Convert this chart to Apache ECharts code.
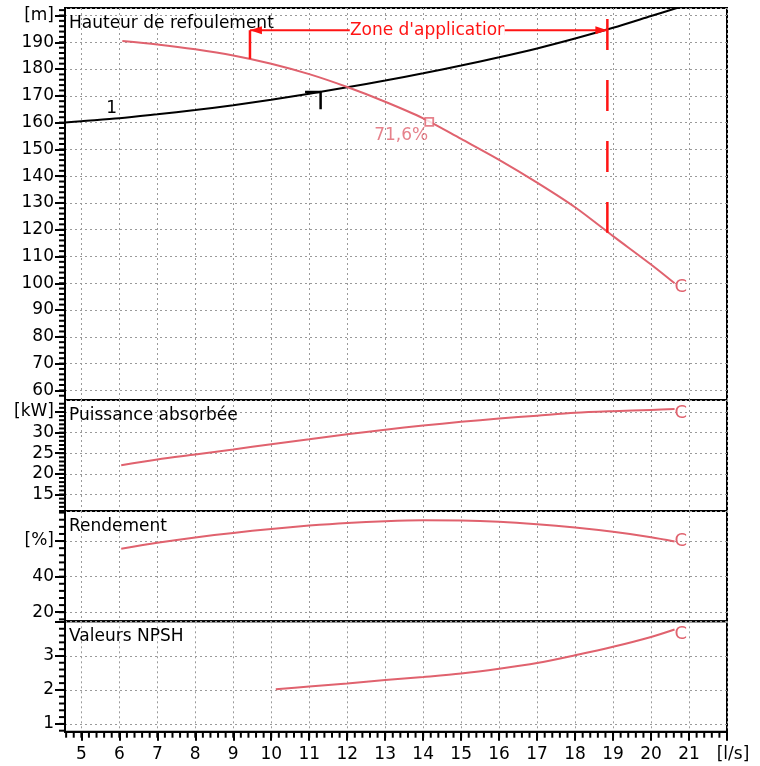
<!DOCTYPE html>
<html>
<head>
<meta charset="utf-8">
<script src="https://cdn.jsdelivr.net/npm/echarts@6/dist/echarts.min.js"></script>
<style>
  html, body { margin: 0; padding: 0; background: #fff; }
  #chart { width: 760px; height: 766px; }
</style>
</head>
<body>
<div id="chart"></div>
<script>
// Pump characteristic curves vs. flow rate [l/s]

// Head curve H(Q) [m]
const headQ = [6.08, 7, 8, 9, 10, 11, 12, 13, 14, 15, 16, 17, 18, 19, 20, 20.62];
const headH = [190.5, 189.2, 187.4, 185.1, 182.0, 178.1, 173.3, 167.8, 161.6, 153.9, 146.1, 137.6, 128.4, 117.6, 107.0, 100.0];

// System curve "1" [m]
const systemQ = [4.57, 5, 6, 7, 8, 9, 10, 11, 12, 13, 14, 15, 16, 17, 18, 19, 20, 20.7];
const systemH = [160.0, 160.5, 161.6, 163.1, 164.7, 166.5, 168.5, 170.8, 173.2, 175.7, 178.4, 181.3, 184.4, 187.7, 191.4, 195.4, 199.8, 202.9];

// Absorbed power [kW]
const powerQ = [6.05, 7, 8, 9, 10, 11, 12, 13, 14, 15, 16, 17, 18, 19, 20, 20.62];
const powerKW = [22.1, 23.5, 24.7, 25.9, 27.2, 28.4, 29.6, 30.7, 31.7, 32.6, 33.4, 34.1, 34.8, 35.2, 35.5, 35.7];

// Efficiency [%]
const effQ = [6.05, 7, 8, 9, 10, 11, 12, 13, 14, 15, 16, 17, 18, 19, 20, 20.62];
const effPct = [55.7, 59.0, 62.0, 64.6, 66.8, 68.7, 70.2, 71.2, 71.7, 71.6, 70.9, 69.5, 67.6, 65.2, 62.2, 59.8];

// NPSH required [m]
const npshQ = [10.12, 11, 12, 13, 14, 15, 16, 17, 18, 19, 20, 20.62];
const npshM = [2.02, 2.10, 2.19, 2.29, 2.38, 2.48, 2.62, 2.79, 3.02, 3.27, 3.56, 3.78];

// Duty point on the head curve
const dutyQ = 14.16;
const dutyH = 160.3;
const dutyLabel = '71,6%';

// Operating-point bracket on the system curve
const bracketQ = [10.89, 11.30, 11.30];
const bracketH = [171.4, 171.4, 165.0];

// Application range annotation
const zoneLabel = "Zone d'application";
const zoneQ = [9.44, 18.85];
const zoneH = 194.5;
const zoneLabelQ = 14.15;
const zoneLeftFootH = 183.8;
const zoneRightTopH = 198.7;
const zoneRightFootH = 118.9;

const systemLabel = '1';
const systemLabelPos = [5.8, 165.3];

const panelTitles = ['Hauteur de refoulement', 'Puissance absorbée', 'Rendement', 'Valeurs NPSH'];
const unitLabels = [[200, '[m]'], [35, '[kW]'], [60, '[%]'], [4, '']];
const flowUnit = '[l/s]';

// Axis extents and tick steps
const flowRange = [4.57, 22.0];
const flowMinorStep = 0.2;
const yRanges = [[56.4, 202.8], [11.0, 37.9], [14.9, 76.9], [0.77, 4.02]];
const ySplits = [14, 5, 3, 3];
const yMinorSteps = [2, 1, 4, 0.2];
const panelTops = [8, 400, 511, 621.3];
const panelHeights = [392, 111, 110.3, 110.4];

const PINK = '#e0626e';
const RED = '#ff1414';
const GRIDC = '#9a9a9a';
const FONT = 'DejaVu Sans';
const FS = 17;
const MINOR_LEN = 6;

const pairs = (xs, ys) => xs.map((x, i) => [x, ys[i]]);
const near = (a, b) => Math.abs(a - b) < 1e-6;
function stepValues(lo, hi, step) {
  const out = [];
  for (let k = Math.ceil(lo / step - 1e-9); k * step <= hi + 1e-9; k++) out.push(+(k * step).toFixed(6));
  return out;
}

const chart = echarts.init(document.getElementById('chart'), null, { renderer: 'canvas' });

const gridLine = { show: true, lineStyle: { color: GRIDC, width: 1, type: [2, 3] } };
const nPanels = panelTops.length;

const grids = panelTops.map((t, i) => ({
  left: 65, right: 33, top: t, height: panelHeights[i],
  show: true, borderColor: '#000', borderWidth: 2,
  containLabel: false, outerBoundsMode: 'none'
}));

const xAxes = panelTops.map((t, i) => {
  const last = i === nPanels - 1;
  return {
    type: 'value', gridIndex: i, position: 'bottom',
    min: flowRange[0], max: flowRange[1], splitNumber: 17,
    axisLine: { show: last, onZero: false, lineStyle: { color: '#000', width: 2 } },
    axisTick: { show: last, length: 9, lineStyle: { color: '#000', width: 2 } },
    axisLabel: {
      show: last, showMinLabel: false, showMaxLabel: true, margin: 14,
      color: '#000', fontSize: FS, fontFamily: FONT,
      formatter: v => near(v, flowRange[1]) ? '{u|' + flowUnit + '}' : String(v),
      rich: { u: { padding: [0, 0, 0, 12], color: '#000', fontSize: FS, fontFamily: FONT } }
    },
    splitLine: gridLine
  };
});

const yAxes = yRanges.map((r, i) => ({
  type: 'value', gridIndex: i, position: 'left',
  min: r[0], max: r[1], splitNumber: ySplits[i],
  axisLine: { show: true, onZero: false, lineStyle: { color: '#000', width: 2 } },
  axisTick: { show: true, length: 10, lineStyle: { color: '#000', width: 2 } },
  axisLabel: {
    showMinLabel: false, showMaxLabel: false, margin: 11,
    color: '#000', fontSize: FS, fontFamily: FONT,
    formatter: v => near(v, unitLabels[i][0]) ? unitLabels[i][1] : String(v)
  },
  splitLine: gridLine
}));

function curve(name, idx, xs, ys, color, width, endOffset) {
  const s = {
    name, type: 'line', xAxisIndex: idx, yAxisIndex: idx,
    data: pairs(xs, ys), smooth: 0.3,
    symbol: 'none', lineStyle: { color, width }, itemStyle: { color },
    silent: true, z: 3
  };
  if (endOffset) {
    s.endLabel = {
      show: true, formatter: 'C', color: PINK, fontSize: 18, fontFamily: FONT,
      distance: 0, offset: endOffset
    };
  }
  return s;
}

const series = [
  curve('Courbe réseau', 0, systemQ, systemH, '#000', 2, null),
  {
    name: 'Repère', type: 'line', xAxisIndex: 0, yAxisIndex: 0,
    data: pairs(bracketQ, bracketH), symbol: 'none',
    lineStyle: { color: '#000', width: 2.5 }, silent: true, z: 4
  },
  curve('Hauteur de refoulement', 0, headQ, headH, PINK, 2, [0, 4]),
  {
    name: 'Point de fonctionnement', type: 'scatter', xAxisIndex: 0, yAxisIndex: 0,
    data: [[dutyQ, dutyH]], symbol: 'rect', symbolSize: 8,
    itemStyle: { color: '#fff', borderColor: PINK, borderWidth: 1.8 },
    label: {
      show: true, formatter: dutyLabel, position: 'bottom', distance: 0,
      offset: [-28, 0], color: PINK, fontSize: FS, fontFamily: FONT
    },
    silent: true, z: 5
  },
  curve('Puissance absorbée', 1, powerQ, powerKW, PINK, 2, [0, 4]),
  curve('Rendement', 2, effQ, effPct, PINK, 2, [0, 0]),
  curve('Valeurs NPSH', 3, npshQ, npshM, PINK, 2, [0, 5])
];

chart.setOption({
  animation: false,
  backgroundColor: '#fff',
  textStyle: { fontFamily: FONT },
  grid: grids,
  xAxis: xAxes,
  yAxis: yAxes,
  series
});

// Short intermediate ticks, positioned through each panel's scales
const minorTicks = [];
yRanges.forEach((r, i) => {
  stepValues(r[0], r[1], yMinorSteps[i]).forEach(v => {
    const p = chart.convertToPixel({ gridIndex: i }, [flowRange[0], v]);
    minorTicks.push({ type: 'line', z: 90, shape: { x1: p[0] - MINOR_LEN, y1: p[1], x2: p[0], y2: p[1] }, style: { stroke: '#000', lineWidth: 2 } });
  });
});
stepValues(flowRange[0], flowRange[1], flowMinorStep).forEach(v => {
  const last = nPanels - 1;
  const p = chart.convertToPixel({ gridIndex: last }, [v, yRanges[last][0]]);
  minorTicks.push({ type: 'line', z: 90, shape: { x1: p[0], y1: p[1], x2: p[0], y2: p[1] + MINOR_LEN }, style: { stroke: '#000', lineWidth: 2 } });
});

// Annotations placed through the head panel's scales
const toPx = (q, h) => chart.convertToPixel({ gridIndex: 0 }, [q, h]);
const [zx1, zy] = toPx(zoneQ[0], zoneH);
const zx2 = toPx(zoneQ[1], zoneH)[0];
const leftFootY = toPx(zoneQ[0], zoneLeftFootH)[1];
const rightTopY = toPx(zoneQ[1], zoneRightTopH)[1];
const rightFootY = toPx(zoneQ[1], zoneRightFootH)[1];
const labelX = toPx(zoneLabelQ, zoneH)[0];
const ctx = document.createElement('canvas').getContext('2d');
ctx.font = FS + 'px "' + FONT + '"';
const tw = ctx.measureText(zoneLabel).width;
const tl = labelX - tw / 2, tr = labelX + tw / 2;
const sysLbl = toPx(systemLabelPos[0], systemLabelPos[1]);

const graphics = [
  { type: 'line', z: 100, shape: { x1: zx1, y1: zy, x2: tl, y2: zy }, style: { stroke: RED, lineWidth: 2 } },
  { type: 'line', z: 100, shape: { x1: zx1, y1: zy, x2: zx1, y2: leftFootY }, style: { stroke: RED, lineWidth: 2.5 } },
  { type: 'line', z: 100, shape: { x1: zx2, y1: rightTopY, x2: zx2, y2: rightFootY }, style: { stroke: RED, lineWidth: 2.5, lineDash: [31, 30] } },
  { type: 'polygon', z: 104, shape: { points: [[zx1, zy], [zx1 + 12, zy - 4], [zx1 + 12, zy + 4]] }, style: { fill: RED } },
  { type: 'polygon', z: 104, shape: { points: [[zx2, zy], [zx2 - 12, zy - 4], [zx2 - 12, zy + 4]] }, style: { fill: RED } },
  {
    type: 'text', z: 101, x: labelX, y: zy,
    style: { text: zoneLabel, fill: RED, font: FS + 'px "' + FONT + '"', align: 'center', verticalAlign: 'middle', backgroundColor: '#fff', padding: [1, 0] }
  },
  { type: 'rect', z: 102, shape: { x: tr - 3.5, y: zy - 11, width: 5, height: 22 }, style: { fill: '#fff' } },
  { type: 'line', z: 103, shape: { x1: tr - 3, y1: zy, x2: zx2, y2: zy }, style: { stroke: RED, lineWidth: 2 } },
  {
    type: 'text', z: 101, x: sysLbl[0], y: sysLbl[1],
    style: { text: systemLabel, fill: '#000', font: FS + 'px "' + FONT + '"', align: 'center', verticalAlign: 'middle' }
  }
].concat(panelTitles.map((t, i) => ({
  type: 'text', z: 101, x: 69, y: panelTops[i] + 15.5,
  style: { text: t, fill: '#000', font: FS + 'px "' + FONT + '"', align: 'left', verticalAlign: 'middle' }
}))).concat(minorTicks);

chart.setOption({ graphic: graphics });
</script>
</body>
</html>
